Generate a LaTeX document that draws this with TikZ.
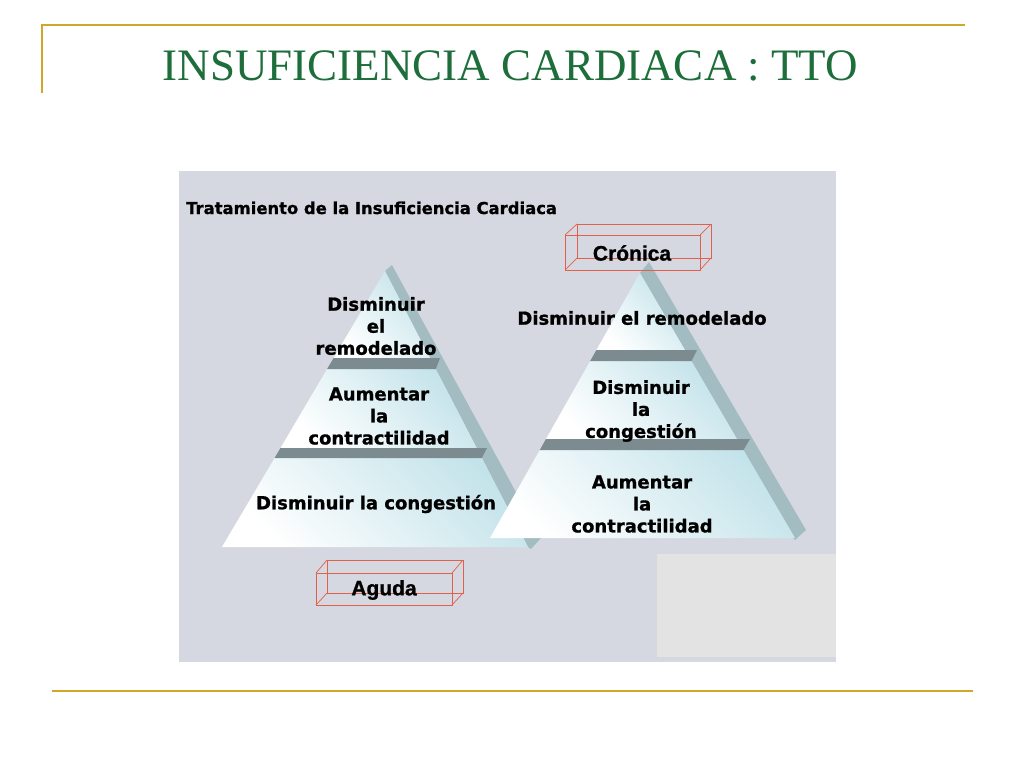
\documentclass[tikz,border=0pt]{standalone}
\usepackage{fontspec}
\setmainfont{Liberation Serif}
\newfontfamily\verd[FakeBold=1]{DejaVu Sans Bold}
\newfontfamily\arialf[FakeBold=1]{Liberation Sans Bold}
\definecolor{gold}{HTML}{D2A52B}
\definecolor{titlegreen}{HTML}{1E6E3C}
\definecolor{panel}{HTML}{D6D8E1}
\definecolor{graybox}{HTML}{E3E3E3}
\definecolor{stripc}{HTML}{A2BCC2}
\definecolor{ledge}{HTML}{7B8B8F}
\definecolor{facecy}{HTML}{C3E3EA}
\definecolor{boxred}{HTML}{E0604A}
\tikzset{
  goldline/.style={draw=gold, line width=2pt},
  pyrtext/.style={font=\verd\fontsize{18}{22}\selectfont, align=center, text=black, inner sep=0pt},
  face/.style={top color=facecy, bottom color=white, shading angle=-45},
  stripface/.style={fill=stripc},
  ledgeface/.style={fill=ledge},
  wirebox/.style={draw=boxred, line width=0.7pt},
  boxlabel/.style={font=\arialf\fontsize{21}{24}\selectfont, text=black, inner sep=0pt}
}
\begin{document}
\begin{tikzpicture}[x=1pt,y=-1pt]
\useasboundingbox (0,0) rectangle (1024,768);
\fill[white] (0,0) rectangle (1024,768);
% frame lines
\draw[goldline] (42,93) -- (42,25) -- (965,25);
\draw[goldline] (52,691) -- (973,691);
% title
\node[font=\fontsize{45}{50}\selectfont, text=titlegreen, anchor=base, inner sep=0pt] (title) at (510.5,80) {INSUFICIENCIA CARDIACA : TTO};
% panel
\fill[panel] (179,171) rectangle (836,662);
\fill[graybox] (657,554) rectangle (836,657);
\node[font=\verd\fontsize{16.4}{18}\selectfont, anchor=base west, inner sep=0pt] (sub) at (186,214) {Tratamiento de la Insuficiencia Cardiaca};
% ---------- left pyramid
\fill[stripface] (385,271) -- (392,265) -- (541,538) -- (531,549) -- (528,547) -- cycle;
\shade[face] (385,271) -- (430,358) -- (333.6,358) -- cycle;
\shade[face] (327.1,369) -- (435.8,369) -- (476.7,448) -- (280.5,448) -- cycle;
\shade[face] (274.6,458) -- (481.9,458) -- (528,547) -- (222,547) -- cycle;
\fill[ledgeface] (333.6,358) -- (440,358) -- (435.8,369) -- (327.1,369) -- cycle;
\fill[ledgeface] (280.5,448) -- (487,448) -- (481.9,458) -- (274.6,458) -- cycle;
\node[pyrtext] (l1) at (376,326) {Disminuir\\el\\remodelado};
\node[pyrtext] (l2) at (379,416) {Aumentar\\la\\contractilidad};
\node[pyrtext] (l3) at (376,504) {Disminuir la congestión};
% ---------- right pyramid
\fill[stripface] (640,273) -- (649,262) -- (806,530) -- (795,540) -- (793,538) -- cycle;
\shade[face] (640,273) -- (685,350) -- (596.4,350) -- cycle;
\shade[face] (590.2,361) -- (691.5,361) -- (737,439) -- (546,439) -- cycle;
\shade[face] (539.8,450) -- (743.5,450) -- (795,538) -- (490,538) -- cycle;
\fill[ledgeface] (596.4,350) -- (697,350) -- (691.5,361) -- (590.2,361) -- cycle;
\fill[ledgeface] (546,439) -- (750,439) -- (743.5,450) -- (539.8,450) -- cycle;
\node[pyrtext] (r1) at (642,318) {Disminuir el remodelado};
\node[pyrtext] (r2) at (641,411) {Disminuir\\la\\congestión};
\node[pyrtext] (r3) at (642,504) {Aumentar\\la\\contractilidad};
% ---------- wire boxes
\draw[wirebox] (565,235) rectangle (700,270);
\draw[wirebox] (577,224) rectangle (711,258);
\draw[wirebox] (565,235) -- (577,224) (700,235) -- (711,224) (700,270) -- (711,258) (565,270) -- (577,258);
\node[boxlabel] (cronica) at (632,253) {Crónica};
\draw[wirebox] (316,573) rectangle (452,605);
\draw[wirebox] (327,560) rectangle (463,593);
\draw[wirebox] (316,573) -- (327,560) (452,573) -- (463,560) (452,605) -- (463,593) (316,605) -- (327,593);
\node[boxlabel] (aguda) at (384,590) {Aguda};
\end{tikzpicture}
\end{document}
